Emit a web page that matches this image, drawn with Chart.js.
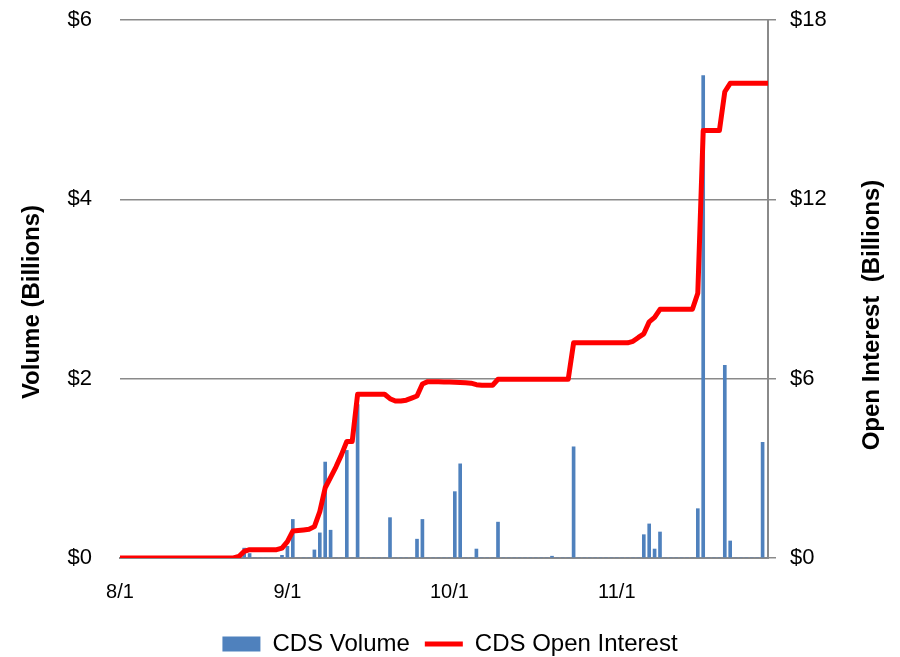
<!DOCTYPE html>
<html>
<head>
<meta charset="utf-8">
<script src="https://cdn.jsdelivr.net/npm/chart.js@4.4.0/dist/chart.umd.min.js"></script>
<style>
  body { margin: 0; background: #fff; }
</style>
</head>
<body>
<canvas id="cds_chart" width="900" height="657"></canvas>
<script>
const month_ticks = ["8/1", "9/1", "10/1", "11/1"];
const month_numbers = [8, 9, 10, 11];
const month_lengths = [31, 30, 31, 29];

// CDS volume, $ billions, one value per day
const volume_aug = [0, 0, 0, 0, 0, 0, 0, 0, 0, 0,
                    0, 0, 0, 0, 0, 0, 0, 0, 0, 0,
                    0, 0, 0, 0.11, 0.05, 0, 0, 0, 0, 0,
                    0.03];
const volume_sep = [0.13, 0.43, 0, 0, 0, 0.09, 0.28, 1.07, 0.31, 0,
                    0, 1.20, 0, 1.71, 0, 0, 0, 0, 0, 0.45,
                    0, 0, 0, 0, 0.21, 0.43, 0, 0, 0, 0];
const volume_oct = [0, 0.74, 1.05, 0, 0, 0.10, 0, 0, 0, 0.40,
                    0, 0, 0, 0, 0, 0, 0, 0, 0, 0.02,
                    0, 0, 0, 1.24, 0, 0, 0, 0, 0, 0, 0];
const volume_nov = [0, 0, 0, 0, 0, 0.26, 0.38, 0.10, 0.29, 0,
                    0, 0, 0, 0, 0, 0.55, 5.38, 0, 0, 0,
                    2.15, 0.19, 0, 0, 0, 0, 0, 1.29, 0];

// CDS open interest, $ billions, one value per day
const open_interest_aug = [0, 0, 0, 0, 0, 0, 0, 0, 0, 0,
                           0, 0, 0, 0, 0, 0, 0, 0, 0, 0,
                           0, 0, 0.05, 0.22, 0.28, 0.28, 0.28, 0.28, 0.28, 0.28,
                           0.33];
const open_interest_sep = [0.55, 0.9, 0.92, 0.94, 0.96, 1.05, 1.55, 2.35, 2.7, 3.05,
                           3.45, 3.9, 3.9, 5.48, 5.48, 5.48, 5.48, 5.48, 5.48, 5.33,
                           5.25, 5.25, 5.28, 5.35, 5.42, 5.82, 5.9, 5.9, 5.9, 5.89];
const open_interest_oct = [5.89, 5.88, 5.87, 5.86, 5.85, 5.8, 5.78, 5.78, 5.78, 5.98,
                           5.98, 5.98, 5.98, 5.98, 5.98, 5.98, 5.98, 5.98, 5.98, 5.98,
                           5.98, 5.98, 5.98, 7.2, 7.2, 7.2, 7.2, 7.2, 7.2, 7.2, 7.2];
const open_interest_nov = [7.2, 7.2, 7.2, 7.25, 7.38, 7.5, 7.9, 8.05, 8.32, 8.32,
                           8.32, 8.32, 8.32, 8.32, 8.32, 8.86, 14.3, 14.3, 14.3, 14.3,
                           15.6, 15.88, 15.88, 15.88, 15.88, 15.88, 15.88, 15.88, 15.88];

let day_labels = [];
month_numbers.forEach((m, i) => {
    for (let d = 1; d <= month_lengths[i]; d++) {
        day_labels.push(m + "/" + d);
    }
});

const volume_data = [].concat(volume_aug, volume_sep, volume_oct, volume_nov);
const open_interest_data = [].concat(open_interest_aug, open_interest_sep, open_interest_oct, open_interest_nov);

const font_family = "'Liberation Sans', Arial, sans-serif";
const axis_gray = "#8a8a8a";

// rotated axis titles, both reading bottom to top
const axis_titles = {
    id: "axis_titles",
    afterDraw(chart) {
        const ctx = chart.ctx;
        const draw_title = (text, x, y) => {
            ctx.save();
            ctx.fillStyle = "#000";
            ctx.font = "bold 24px " + font_family;
            ctx.textAlign = "center";
            ctx.textBaseline = "middle";
            ctx.translate(x, y);
            ctx.rotate(-Math.PI / 2);
            ctx.fillText(text, 0, 0);
            ctx.restore();
        };
        draw_title("Volume (Billions)", 32, 302);
        draw_title("Open Interest  (Billions)", 872, 315);
    }
};

// push the legend row down a little
const legend_shift = {
    id: "legend_shift",
    afterLayout(chart) {
        if (chart.legend) {
            chart.legend.top += 9;
            chart.legend.bottom += 9;
        }
    }
};

const cds_ctx = document.getElementById("cds_chart").getContext("2d");

const cds_config = {
    type: "bar",
    data: {
        labels: day_labels,
        datasets: [
            {
                type: "bar",
                label: "CDS Volume",
                data: volume_data,
                backgroundColor: "#4F81BD",
                borderWidth: 0,
                barThickness: 3,
                yAxisID: "y",
                order: 1
            },
            {
                type: "line",
                label: "CDS Open Interest",
                data: open_interest_data,
                borderColor: "#FF0000",
                backgroundColor: "#FF0000",
                borderWidth: 5,
                borderJoinStyle: "round",
                pointRadius: 0,
                tension: 0,
                yAxisID: "y1",
                order: 0
            }
        ]
    },
    options: {
        responsive: false,
        animation: false,
        layout: { padding: { top: 20, left: 0, right: 0, bottom: 0 } },
        plugins: {
            tooltip: { enabled: false },
            legend: {
                position: "bottom",
                labels: {
                    color: "#000",
                    font: { family: font_family, size: 24 },
                    usePointStyle: true,
                    pointStyleWidth: 38,
                    boxHeight: 15,
                    padding: 15,
                    sort: (a, b) => a.datasetIndex - b.datasetIndex,
                    generateLabels: (chart) => {
                        const items = Chart.defaults.plugins.legend.labels.generateLabels(chart);
                        items.forEach((item) => {
                            if (item.datasetIndex === 0) {
                                item.pointStyle = "rect";
                                item.lineWidth = 0;
                            } else {
                                item.pointStyle = "line";
                                item.lineWidth = 5;
                                item.strokeStyle = "#FF0000";
                            }
                        });
                        return items;
                    }
                }
            }
        },
        scales: {
            x: {
                type: "category",
                offset: false,
                grid: { display: false },
                border: { display: true, color: axis_gray, width: 2 },
                ticks: {
                    autoSkip: false,
                    maxRotation: 0,
                    minRotation: 0,
                    padding: 14,
                    color: "#000",
                    font: { family: font_family, size: 20 },
                    callback: function (value) {
                        const lab = this.getLabelForValue(value);
                        return month_ticks.includes(lab) ? lab : "";
                    }
                },
                afterFit: (s) => { s.height = 50; }
            },
            y: {
                position: "left",
                min: 0,
                max: 6,
                // invisible tick marks give the gap between labels and plot
                grid: { color: axis_gray, lineWidth: 1.5, drawTicks: true, tickLength: 28, tickColor: "rgba(0,0,0,0)" },
                border: { display: false },
                ticks: {
                    stepSize: 2,
                    padding: 0,
                    color: "#000",
                    font: { family: font_family, size: 22 },
                    callback: (v) => "$" + v
                },
                afterFit: (s) => { s.width = 120; }
            },
            y1: {
                position: "right",
                min: 0,
                max: 18,
                grid: {
                    drawOnChartArea: false,
                    drawTicks: true,
                    tickLength: 22,
                    tickBorderDash: [7, 40],
                    color: axis_gray,
                    lineWidth: 1.5
                },
                border: { display: true, color: axis_gray, width: 2 },
                ticks: {
                    stepSize: 6,
                    padding: 0,
                    color: "#000",
                    font: { family: font_family, size: 22 },
                    callback: (v) => "$" + v
                },
                afterFit: (s) => { s.width = 132; }
            }
        }
    },
    plugins: [axis_titles, legend_shift]
};

const cds_chart = new Chart(cds_ctx, cds_config);
</script>
</body>
</html>
